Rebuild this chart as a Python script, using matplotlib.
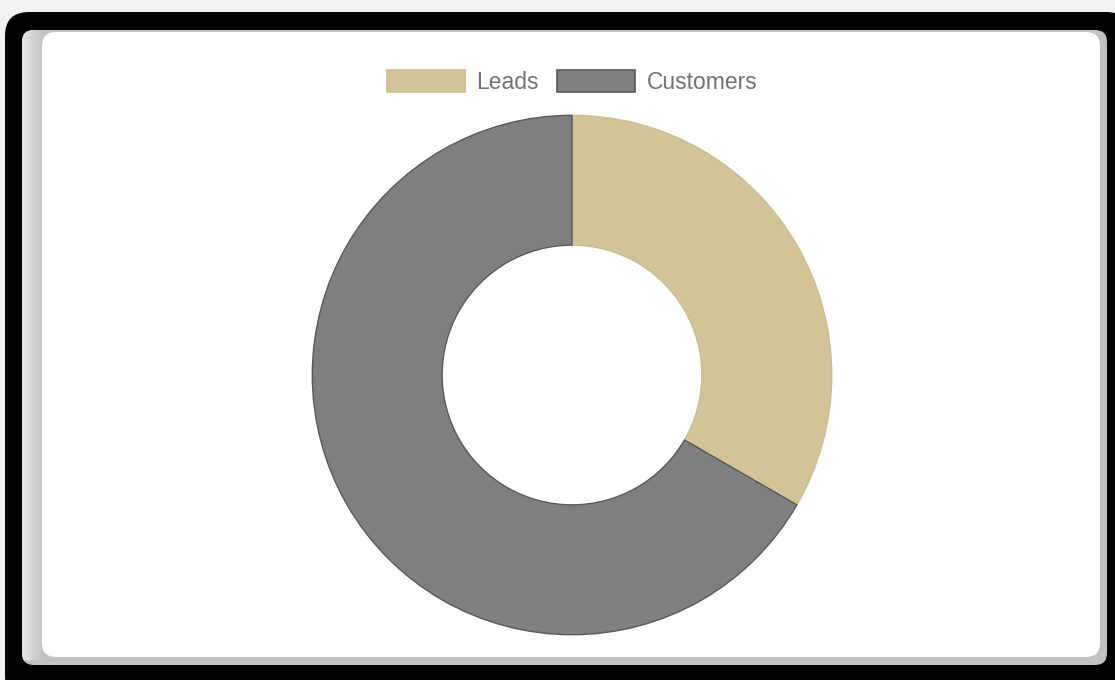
import matplotlib
matplotlib.use("Agg")
import matplotlib.pyplot as plt
import numpy as np
from matplotlib.patches import FancyBboxPatch, Patch

labels = ["Leads", "Customers"]
values = [1, 2]
colors = ["#d2c498", "#7f7f7f"]
edge_colors = ["#cbbd8f", "#5a5a5a"]

W, H = 1115, 680
fig = plt.figure(figsize=(W / 100, H / 100), dpi=100)
fig.patch.set_facecolor("#f2f2f2")

bg = fig.add_axes([0, 0, 1, 1])
bg.set_xlim(0, W)
bg.set_ylim(H, 0)
bg.axis("off")

def rbox(x0, y0, x1, y1, r, color, z):
    p = FancyBboxPatch((x0 + r, y0 + r), (x1 - x0) - 2 * r, (y1 - y0) - 2 * r,
                       boxstyle=f"round,pad={r}", facecolor=color, edgecolor="none",
                       zorder=z)
    bg.add_patch(p)
    return p

rbox(5, 12, 1130, 700, 24, "#000000", 1)
gray = rbox(22, 30, 1107, 665, 12, "#c2c2c2", 2)
grad = np.linspace(0.90, 0.78, 20)[None, :]
im = bg.imshow(np.repeat(grad, 10, axis=0), extent=(22, 42, 660, 30), cmap="gray",
               vmin=0, vmax=1, aspect="auto", zorder=3, interpolation="bilinear")
im.set_clip_path(gray)
rbox(42, 32, 1100, 657, 14, "#ffffff", 4)

R = 261
cx, cy = 572, 375
ax = fig.add_axes([(cx - R) / W, (H - cy - R) / H, 2 * R / W, 2 * R / H])
wedges, _ = ax.pie(values, colors=colors, startangle=90, counterclock=False,
                   radius=1, wedgeprops=dict(width=0.5, linewidth=1.0))
for w, ec in zip(wedges, edge_colors):
    w.set_edgecolor(ec)
ax.set_xlim(-1.005, 1.005)
ax.set_ylim(-1.005, 1.005)
ax.set_aspect("equal")
ax.axis("off")

handles = [Patch(facecolor=c, edgecolor=ec, linewidth=1.2)
           for c, ec in zip(colors, edge_colors)]
leg = fig.legend(handles, labels, loc="center", bbox_to_anchor=(572 / W, 1 - 82 / H),
                 ncol=2, frameon=False, handlelength=3.4, handleheight=1.05,
                 handletextpad=0.5, columnspacing=0.8,
                 prop=dict(family="Liberation Sans", size=16.5))
for t in leg.get_texts():
    t.set_color("#727272")

fig.savefig("out.png", dpi=100, facecolor=fig.get_facecolor())
